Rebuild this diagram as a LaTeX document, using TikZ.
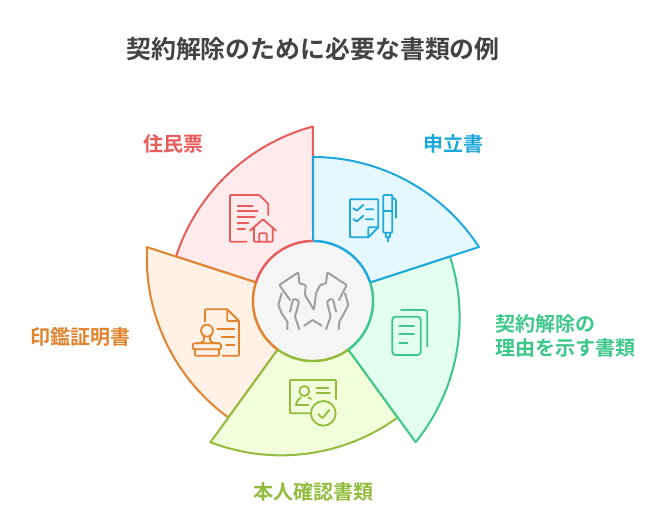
\documentclass[tikz,border=0pt]{standalone}
\usepackage{fontspec}
\setmainfont{Noto Sans CJK JP}[BoldFont={Noto Sans CJK JP Bold}]
\definecolor{cred}{HTML}{E85C5C}\definecolor{fred}{HTML}{FFEBEB}
\definecolor{cblue}{HTML}{1FA8DC}\definecolor{fblue}{HTML}{E6F8FF}
\definecolor{cgreen}{HTML}{3EC78B}\definecolor{fgreen}{HTML}{E2FFF0}
\definecolor{cyel}{HTML}{93BC3E}\definecolor{fyel}{HTML}{F2FFDB}
\definecolor{corg}{HTML}{E0842F}\definecolor{forg}{HTML}{FFF1E5}
\definecolor{cgrey}{HTML}{A0A0A0}\definecolor{ctitle}{HTML}{434343}
\newcommand{\sectorshape}[3]{%
  \begin{scope}[shift={(313,301)},y=1bp,rotate=#1]
    \draw[draw=#2,fill=#3,line width=2bp,line join=round]
      (0,60) -- (0,144) arc[start angle=90,end angle=33.05,radius=198] -- (18:60) arc[start angle=18,end angle=90,radius=60] -- cycle;
  \end{scope}}
\newcommand{\hubarc}[3]{%
  \begin{scope}[shift={(313,301)},y=1bp]
    \draw[draw=#3,line width=2.4bp] (#1:60) arc[start angle=#1,end angle=#2,radius=60];
  \end{scope}}
\tikzset{
  lab/.style={font=\fontsize{20bp}{24bp}\selectfont\bfseries,inner sep=0pt},
  ico/.style={line width=1.8bp,line cap=round,line join=round,rounded corners=0.8bp},
  zoomed/.style={scale=0.33333}
}
\begin{document}
\begin{tikzpicture}[x=1bp,y=-1bp]
\useasboundingbox (0,0) rectangle (662,530);
\fill[white] (0,0) rectangle (662,530);
\node[lab,text=ctitle,font=\fontsize{24.9bp}{28bp}\selectfont\bfseries] (title) at (313,49) {契約解除のために必要な書類の例};
\sectorshape{-288}{cred}{fred}
\sectorshape{-216}{corg}{forg}
\sectorshape{-144}{cyel}{fyel}
\sectorshape{-72}{cgreen}{fgreen}
\sectorshape{0}{cblue}{fblue}
\fill[fill=white!96!black] (313,301) circle[radius=60];
\hubarc{90}{18}{cblue}
\hubarc{18}{-54}{cgreen}
\hubarc{-54}{-126}{cyel}
\hubarc{-126}{-198}{corg}
\hubarc{-198}{-270}{cred}
\node[lab,text=cred] (l1) at (173,144) {住民票};
\node[lab,text=cblue] (l2) at (453,144) {申立書};
\node[lab,text=corg] (l3) at (80.5,337) {印鑑証明書};
\node[lab,text=cyel] (l4) at (313,492) {本人確認書類};
\node[lab,text=cgreen,anchor=west] (l5) at (495,324) {契約解除の};
\node[lab,text=cgreen,anchor=west] (l6) at (495,348) {理由を示す書類};
% red icon
\begin{scope}[shift={(130,110)},zoomed,draw=cred,ico]
\draw (350,395)--(300,395)--(300,255)--(388,255)--(415,282)--(415,315);
\draw (323,287)--(368,287) (323,303)--(383,303) (323,321)--(375,321) (323,340)--(355,340) (323,358)--(345,358);
\draw (360,362)--(399,328)--(438,362);
\draw (372,352)--(372,395)--(428,395)--(428,352);
\draw (388,395)--(388,370)--(410,370)--(410,395);
\end{scope}
% blue icon
\begin{scope}[shift={(300,140)},zoomed,draw=cblue,ico]
\draw (205,292)--(150,292)--(150,178)--(235,178)--(235,262)--(205,292)--(205,262)--(235,262);
\draw (160,205)--(170,212)--(190,195) (198,208)--(220,208);
\draw (160,237)--(170,245)--(190,227) (198,238)--(220,238);
\draw (250,165) rectangle (277,278);
\draw (250,213)--(277,213);
\draw (277,172)--(288,180)--(288,233);
\draw (257,278)--(257,292)--(270,292)--(270,278);
\draw (264,292)--(264,305);
\end{scope}
% green icon
\begin{scope}[shift={(340,240)},zoomed,draw=cgreen,ico,rounded corners=3bp]
\draw (157,230) rectangle (242,345);
\draw (183,210)--(262,210)--(262,320);
\draw (178,257)--(222,257) (178,282)--(222,282) (178,308)--(202,308);
\end{scope}
% yellow icon
\begin{scope}[shift={(200,340)},zoomed,draw=cyel,ico]
\draw (408,178)--(408,120)--(270,120)--(270,220)--(330,220);
\draw (313,153) circle[radius=15];
\draw (288,195) .. controls (290,183) and (297,175) .. (303,172);
\draw (288,195)--(325,195);
\draw (325,172)--(333,177);
\draw (350,145)--(385,145) (350,160)--(390,160);
\draw (370,220) circle[radius=37];
\draw (355,222)--(367,235)--(388,210);
\end{scope}
% orange icon
\begin{scope}[shift={(140,240)},zoomed,draw=corg,ico]
\draw (195,245)--(195,208)--(262,208)--(297,243)--(297,347)--(247,347);
\draw (262,208)--(262,243)--(297,243);
\draw (232,268)--(283,268) (245,292)--(283,292) (258,316)--(283,316);
\draw (201,272) circle[radius=18];
\draw (190,287) .. controls (197,302) and (190,310) .. (168,310);
\draw (212,287) .. controls (205,302) and (212,310) .. (235,310);
\draw[rounded corners=2bp] (158,310) rectangle (243,328);
\draw (165,328)--(165,347)--(237,347)--(237,328);
\end{scope}
% centre icon
\begin{scope}[shift={(240,230)},zoomed,draw=cgrey,ico,line width=2bp]
\draw (150,210)--(118,165)--(175,127)--(178,160)--(197,165)--(195,195)--(222,240)--(228,190)--(240,165)--(258,160)--(262,127)--(320,165)--(297,210);
\draw (125,190)--(115,225)--(125,250)--(142,275)--(142,298);
\draw (150,245)--(158,212) .. controls (162,205) and (176,208) .. (176,220) -- (165,260)--(178,298);
\draw (315,190)--(325,225)--(312,250)--(298,275)--(296,298);
\draw (288,245)--(280,212) .. controls (276,205) and (262,208) .. (262,220) -- (272,260)--(258,298);
\draw (193,287)--(218,270)--(245,287);
\end{scope}
\end{tikzpicture}
\end{document}
